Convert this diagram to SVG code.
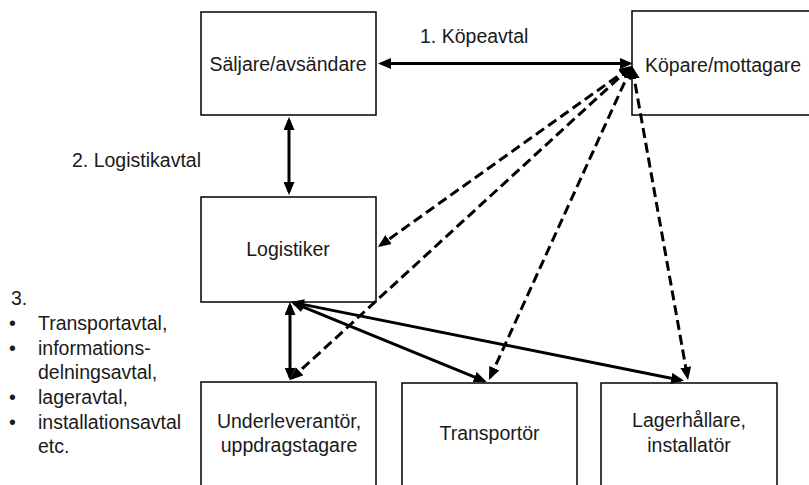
<svg xmlns="http://www.w3.org/2000/svg" width="809" height="485" viewBox="0 0 809 485">
  <style>
    .box { fill: #ffffff; stroke: #000000; stroke-width: 1.5; }
    .lbl { font-family: "Liberation Sans", Arial, sans-serif; font-size: 19.5px; fill: #1a1a1a; }
    .mid { text-anchor: middle; }
    .solid { stroke: #000000; stroke-width: 3; fill: none; marker-start: url(#arrow); marker-end: url(#arrow); }
    .dash { stroke: #000000; stroke-width: 3; fill: none; stroke-dasharray: 10 5; marker-start: url(#arrow); marker-end: url(#arrow); }
  </style>
  <defs>
    <marker id="arrow" viewBox="0 0 13 11" markerUnits="userSpaceOnUse" markerWidth="13" markerHeight="11" refX="10" refY="5.5" orient="auto-start-reverse">
      <path d="M0,0 L13,5.5 L0,11 z" fill="#000000"/>
    </marker>
  </defs>

  <rect width="809" height="485" fill="#ffffff"/>

  <!-- nodes -->
  <g id="saljare">
    <rect class="box" x="201" y="12" width="175" height="103"/>
    <text class="lbl mid" x="288" y="71">Säljare/avsändare</text>
  </g>
  <g id="kopare">
    <rect class="box" x="632" y="11" width="195" height="104"/>
    <text class="lbl" x="645" y="72">Köpare/mottagare</text>
  </g>
  <g id="logistiker">
    <rect class="box" x="201" y="197" width="175" height="105"/>
    <text class="lbl mid" x="288" y="256">Logistiker</text>
  </g>
  <g id="underleverantor">
    <rect class="box" x="201" y="382" width="175" height="120"/>
    <text class="lbl mid" x="289" y="428">Underleverantör,</text>
    <text class="lbl mid" x="289" y="452">uppdragstagare</text>
  </g>
  <g id="transportor">
    <rect class="box" x="402" y="383" width="175" height="120"/>
    <text class="lbl mid" x="489.5" y="440">Transportör</text>
  </g>
  <g id="lagerhallare">
    <rect class="box" x="601" y="383" width="176" height="120"/>
    <text class="lbl mid" x="689" y="427">Lagerhållare,</text>
    <text class="lbl mid" x="689" y="452">installatör</text>
  </g>

  <!-- connectors -->
  <g id="connectors">
    <!-- 1. purchase agreement -->
    <line class="solid" x1="381" y1="63.5" x2="630" y2="63.5"/>
    <!-- 2. logistics agreement -->
    <line class="solid" x1="289" y1="120" x2="289" y2="192"/>
    <!-- buyer to the other parties -->
    <line class="dash" x1="629.6" y1="67.7" x2="380.4" y2="245.3"/>
    <line class="dash" x1="629.8" y1="68" x2="292.2" y2="378"/>
    <line class="dash" x1="630.8" y1="68.7" x2="490.2" y2="377.3"/>
    <line class="dash" x1="632.5" y1="69" x2="687.5" y2="377"/>
    <!-- 3. logistician to subcontractors -->
    <line class="solid" x1="290" y1="305" x2="290" y2="377.5"/>
    <line class="solid" x1="293.8" y1="303.1" x2="483.9" y2="380.8"/>
    <line class="solid" x1="293.9" y1="302.6" x2="681.1" y2="380.2"/>
  </g>

  <!-- agreement labels -->
  <text class="lbl" x="420" y="43">1. Köpeavtal</text>
  <text class="lbl" x="72" y="167">2. Logistikavtal</text>
  <g id="list">
    <text class="lbl" x="11" y="305">3.</text>
    <text class="lbl" x="9" y="330">•</text>
    <text class="lbl" x="38" y="330">Transportavtal,</text>
    <text class="lbl" x="9" y="354.5">•</text>
    <text class="lbl" x="38" y="354.5">informations-</text>
    <text class="lbl" x="38" y="379">delningsavtal,</text>
    <text class="lbl" x="9" y="404">•</text>
    <text class="lbl" x="38" y="404">lageravtal,</text>
    <text class="lbl" x="9" y="428.5">•</text>
    <text class="lbl" x="38" y="428.5">installationsavtal</text>
    <text class="lbl" x="38" y="453">etc.</text>
  </g>
</svg>
